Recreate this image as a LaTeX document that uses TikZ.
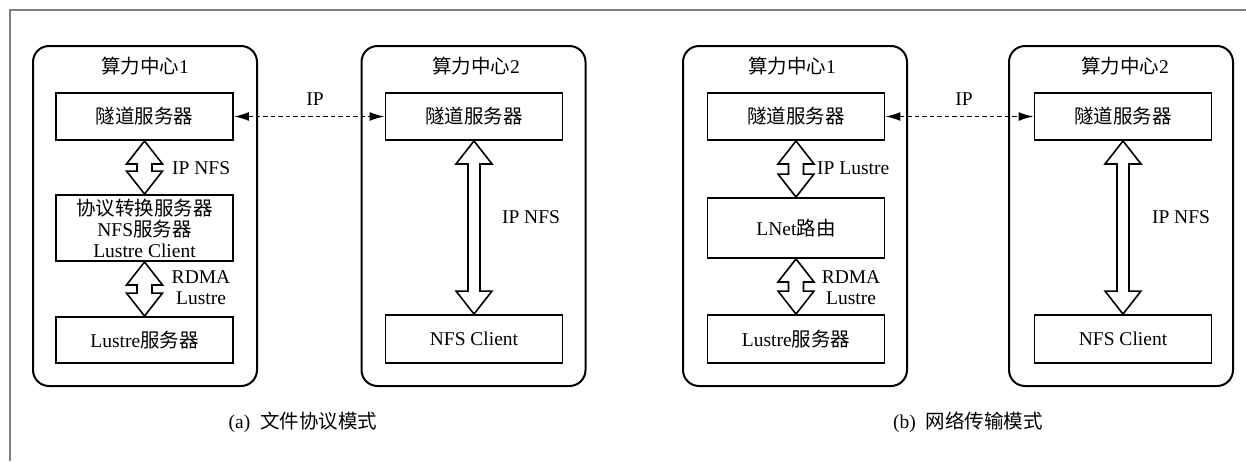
\documentclass[tikz,border=0pt]{standalone}
\usepackage{fontspec}
\setmainfont{Liberation Serif}
\newfontfamily\cjk{Noto Sans CJK SC}
\usetikzlibrary{arrows.meta,calc}
\newcommand{\zh}[1]{{\cjk #1}}
% block double arrow between two nodes: from, to, shaft half width, head length
\newcommand{\blockarrow}[4]{%
  \draw[barrow] let \p1=(#1.south), \p2=(#2.north) in
    (\x1,\y1) -- (\x1+18pt,\y1-#4) -- (\x1+#3,\y1-#4) -- (\x1+#3,\y2+#4)
    -- (\x1+18pt,\y2+#4) -- (\x1,\y2) -- (\x1-18pt,\y2+#4) -- (\x1-#3,\y2+#4)
    -- (\x1-#3,\y1-#4) -- (\x1-18pt,\y1-#4) -- cycle;}
\tikzset{
  center/.style={draw, line width=2pt, rounded corners=16pt, minimum width=224pt, minimum height=340pt, inner sep=0pt},
  srv/.style={draw, line width=1.9pt, minimum width=177pt, inner sep=0pt, align=center},
  title/.style={inner sep=0pt},
  lbl/.style={inner sep=0pt, align=center},
  barrow/.style={draw, line width=1.6pt, fill=white, line join=miter},
  iplink/.style={line width=1.7pt, dash pattern=on 4.5pt off 3pt, {Latex[length=15pt,width=9pt]}-{Latex[length=15pt,width=9pt]}},
  frame/.style={draw=gray, line width=1.5pt}
}
\begin{document}
\begin{tikzpicture}[x=1pt, y=-1pt, font=\fontsize{19.5}{21}\selectfont]
\useasboundingbox (0,0) rectangle (1246,461);
\draw[frame] (10,461) -- (10,10) -- (1246,10);

% ===== (a) =====
\node[center] (c1a) at (145,216) {};
\node[title] (h1a) at (145,66) {\zh{算力中心}1};
\node[srv, minimum height=47pt] (t1a) at (144.5,116.5) {\zh{隧道服务器}};
\node[srv, minimum height=66pt] (p1a) at (144.5,228) {\zh{协议转换服务器}\\NFS\zh{服务器}\\Lustre Client};
\node[srv, minimum height=46pt] (l1a) at (144.5,340) {Lustre\zh{服务器}};
\blockarrow{t1a}{p1a}{7.5pt}{23pt}
\blockarrow{p1a}{l1a}{7.5pt}{23pt}
\node[lbl, anchor=west] (la1) at (172,168) {IP NFS};
\node[lbl] (la2) at (201,288) {RDMA\\Lustre};

\node[center] (c2a) at (473.5,216) {};
\node[title] (h2a) at (476,66) {\zh{算力中心}2};
\node[srv, minimum height=47pt] (t2a) at (474,116.5) {\zh{隧道服务器}};
\node[srv, minimum height=48pt] (n2a) at (474,339) {NFS Client};
\blockarrow{t2a}{n2a}{6pt}{23pt}
\node[lbl] (la3) at (531,217) {IP NFS};

\draw[iplink] (t1a.east) -- (t2a.west);
\node[lbl] (ipa) at (315,99) {IP};
\node[lbl] (capa) at (303,422) {(a)\hspace{10pt}\zh{文件协议模式}};

% ===== (b) =====
\node[center] (c1b) at (795,216) {};
\node[title] (h1b) at (792,66) {\zh{算力中心}1};
\node[srv, minimum height=47pt] (t1b) at (796,116.5) {\zh{隧道服务器}};
\node[srv, minimum height=60pt] (lnb) at (796,228) {LNet\zh{路由}};
\node[srv, minimum height=48pt] (l1b) at (796,339) {Lustre\zh{服务器}};
\blockarrow{t1b}{lnb}{7.5pt}{23pt}
\blockarrow{lnb}{l1b}{7.5pt}{23pt}
\node[lbl, anchor=west] (lb1) at (817,168) {IP Lustre};
\node[lbl] (lb2) at (851,288) {RDMA\\Lustre};

\node[center] (c2b) at (1121,216) {};
\node[title] (h2b) at (1125,66) {\zh{算力中心}2};
\node[srv, minimum height=47pt] (t2b) at (1123,116.5) {\zh{隧道服务器}};
\node[srv, minimum height=48pt] (n2b) at (1123,339) {NFS Client};
\blockarrow{t2b}{n2b}{6pt}{23pt}
\node[lbl] (lb3) at (1181,217) {IP NFS};

\draw[iplink] (t1b.east) -- (t2b.west);
\node[lbl] (ipb) at (964,99) {IP};
\node[lbl] (capb) at (968,422) {(b)\hspace{10pt}\zh{网络传输模式}};
\end{tikzpicture}
\end{document}
